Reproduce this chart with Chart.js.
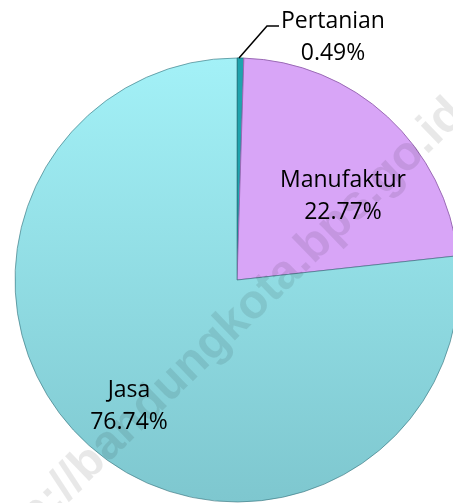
<!DOCTYPE html>
<html>
<head>
<meta charset="utf-8">
<script src="https://cdn.jsdelivr.net/npm/chart.js@4.4.1/dist/chart.umd.min.js"></script>
<style>
  html, body { margin: 0; padding: 0; background: #fff; }
  #wrap { width: 453px; height: 503px; overflow: hidden; position: relative; }
  #pie { position: absolute; left: 0; top: 0; }
</style>
</head>
<body>
<div id="wrap"><canvas id="pie" width="474" height="560"></canvas></div>
<script>
const categories = ['Pertanian', 'Manufaktur', 'Jasa'];
const shares = [0.49, 22.77, 76.74];
const shareLabels = ['0.49%', '22.77%', '76.74%'];

// where each label sits (text centre x, first baseline y)
const labelSpots = [[333, 28], [343, 187], [129, 397]];

const textPlugin = {
    id: 'sliceText',
    afterDatasetsDraw(chart) {
        const ctx = chart.ctx;
        ctx.save();
        // leader line for the tiny slice
        ctx.strokeStyle = '#000';
        ctx.lineWidth = 1.5;
        ctx.beginPath();
        ctx.moveTo(239, 58);
        ctx.lineTo(267, 26);
        ctx.lineTo(279, 26);
        ctx.stroke();

        ctx.fillStyle = '#000';
        ctx.font = '23px "Open Sans"';
        ctx.textAlign = 'center';
        ctx.textBaseline = 'alphabetic';
        categories.forEach(function (name, i) {
            const p = labelSpots[i];
            ctx.fillText(name, p[0], p[1]);
            ctx.fillText(shareLabels[i], p[0], p[1] + 32);
        });

        // watermark
        ctx.translate(-9, 576);
        ctx.rotate(-44 * Math.PI / 180);
        ctx.font = 'bold 48px "Liberation Sans"';
        ctx.textAlign = 'left';
        ctx.fillStyle = 'rgba(0,0,0,0.09)';
        ctx.fillText('http://bandungkota.bps.go.id', 0, 0);
        ctx.restore();
    }
};

const ctx = document.getElementById('pie').getContext('2d');
new Chart(ctx, {
    type: 'pie',
    data: {
        labels: categories,
        datasets: [{
            data: shares,
            radius: 222,
            backgroundColor: function (c) {
                const area = c.chart.chartArea;
                if (!area) return '#90dde4';
                if (c.dataIndex === 0) return '#1fa3ad';
                if (c.dataIndex === 1) return '#d8a5f7';
                const g = c.chart.ctx.createLinearGradient(0, 58, 0, 502);
                g.addColorStop(0, '#a3f1f7');
                g.addColorStop(1, '#7ec7cf');
                return g;
            },
            borderColor: ['#157880', '#9a6ab5', 'rgba(50,110,120,0.6)'],
            borderWidth: 1
        }]
    },
    options: {
        responsive: false,
        animation: false,
        layout: { padding: 0 },
        plugins: {
            legend: { display: false },
            tooltip: { enabled: false }
        }
    },
    plugins: [textPlugin]
});
</script>
</body>
</html>
